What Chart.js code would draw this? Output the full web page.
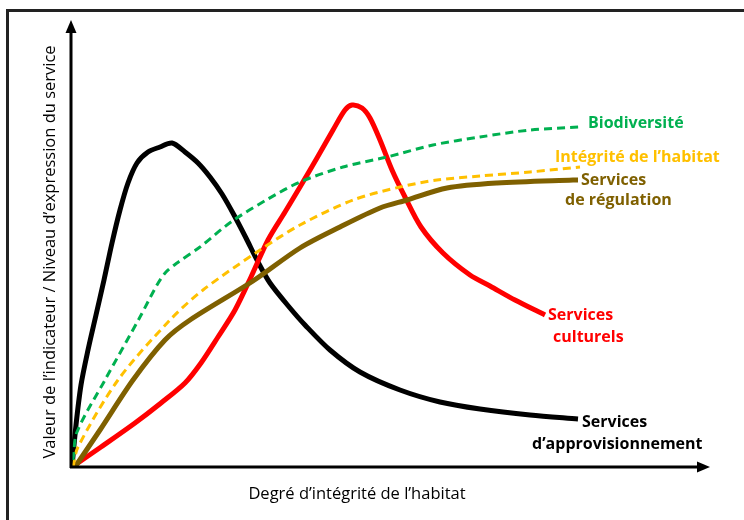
<!DOCTYPE html>
<html>
<head>
<meta charset="utf-8">
<script src="https://cdn.jsdelivr.net/npm/chart.js@4.4.0/dist/chart.umd.min.js"></script>
<style>
  html, body { margin: 0; padding: 0; background: #fff; }
  #wrap { width: 744px; height: 520px; }
</style>
</head>
<body>
<div id="wrap"><canvas id="chart"></canvas></div>
<script>
// conceptual curves, arbitrary units (x: habitat integrity, y: indicator value)
const provX = [1, 5, 10, 17, 25, 33, 41, 49, 57, 66, 77, 89, 101, 114, 127, 139, 151, 163, 175, 187, 199, 219, 234, 259, 289, 329, 369, 409, 459, 507];
const provY = [0, 42, 82, 117, 152, 187, 224, 257, 284, 304, 315, 320, 324, 315, 304, 290, 273, 252, 229, 205, 184, 159, 142, 117, 95, 77, 65, 58, 52, 48];

const cultX = [1, 30, 64, 90, 114, 130, 147, 164, 180, 197, 214, 229, 246, 262, 274, 281, 291, 299, 309, 321, 334, 350, 372, 399, 419, 444, 474];
const cultY = [0, 20, 44, 64, 84, 104, 130, 157, 190, 227, 255, 280, 309, 337, 357, 362, 359, 349, 327, 297, 270, 240, 214, 192, 181, 167, 152];

const bioX = [2, 6, 34, 69, 86, 95, 106, 129, 160, 197, 229, 272, 316, 362, 409, 459, 509];
const bioY = [7, 35, 87, 150, 182, 195, 204, 220, 245, 268, 285, 300, 310, 322, 330, 337, 340];

const habX = [2, 7, 47, 99, 132, 189, 229, 282, 329, 366, 409, 459, 509];
const habY = [0, 20, 87, 147, 177, 217, 242, 267, 280, 287, 291, 295, 300];

const regX = [4, 29, 62, 94, 119, 182, 229, 269, 309, 336, 376, 426, 502, 507];
const regY = [0, 37, 87, 127, 147, 186, 219, 240, 259, 267, 279, 284, 287, 287];

const xTitle = 'Degré d’intégrité de l’habitat';
const yTitle = 'Valeur de l’indicateur / Niveau d’expression du service';

function pts(xs, ys) {
    return xs.map((x, i) => ({ x: x, y: ys[i] }));
}

// label lines per dataset: [text, dx, dy] relative to the last point
const labels = [
    { color: '#00B050', lines: [['Biodiversité', 8, -4]] },
    { color: '#FFC000', lines: [['Intégrité de l’habitat', -25, -10]] },
    { color: '#7F6000', lines: [['Services', 3, 0], ['de régulation', -13, 20]] },
    { color: '#FF0000', lines: [['Services', 3, 0], ['culturels', 8, 22]] },
    { color: '#000000', lines: [['Services', 4, 3], ['d’approvisionnement', -46, 25]] }
];

const decor = {
    id: 'decor',
    afterDraw(chart) {
        const ctx = chart.ctx;
        const xs = chart.scales.x, ys = chart.scales.y;
        const x0 = xs.getPixelForValue(0), y0 = ys.getPixelForValue(0);
        const x1 = xs.getPixelForValue(xs.max), y1 = ys.getPixelForValue(ys.max);
        ctx.save();

        // frame
        ctx.strokeStyle = '#222';
        ctx.lineWidth = 3;
        ctx.beginPath();
        ctx.moveTo(7.5, 530);
        ctx.lineTo(7.5, 10.5);
        ctx.lineTo(760, 10.5);
        ctx.stroke();

        // axes with arrows
        ctx.strokeStyle = '#000';
        ctx.fillStyle = '#000';
        ctx.lineWidth = 3;
        ctx.beginPath();
        ctx.moveTo(x0, y0 + 1);
        ctx.lineTo(x0, y1 + 10);
        ctx.moveTo(x0 - 1, y0);
        ctx.lineTo(x1 - 10, y0);
        ctx.stroke();
        ctx.beginPath();
        ctx.moveTo(x0, y1);
        ctx.lineTo(x0 - 5.5, y1 + 13);
        ctx.lineTo(x0 + 5.5, y1 + 13);
        ctx.closePath();
        ctx.fill();
        ctx.beginPath();
        ctx.moveTo(x1, y0);
        ctx.lineTo(x1 - 13, y0 - 5.5);
        ctx.lineTo(x1 - 13, y0 + 5.5);
        ctx.closePath();
        ctx.fill();

        // axis titles
        ctx.font = '16.5px "Open Sans"';
        ctx.textAlign = 'center';
        ctx.textBaseline = 'middle';
        ctx.fillStyle = '#000';
        ctx.fillText(xTitle, 357, 494);
        ctx.translate(50, 252);
        ctx.rotate(-Math.PI / 2);
        ctx.fillText(yTitle, 0, 0);
        ctx.setTransform(1, 0, 0, 1, 0, 0);

        // curve labels
        ctx.font = 'bold 16px "Open Sans"';
        ctx.textAlign = 'left';
        chart.data.datasets.forEach((ds, i) => {
            const last = ds.data[ds.data.length - 1];
            const px = xs.getPixelForValue(last.x), py = ys.getPixelForValue(last.y);
            ctx.fillStyle = labels[i].color;
            labels[i].lines.forEach(l => ctx.fillText(l[0], px + l[1], py + l[2]));
        });
        ctx.restore();
    }
};

new Chart(document.getElementById('chart'), {
    type: 'line',
    data: {
        datasets: [
            { label: 'Biodiversité', data: pts(bioX, bioY), borderColor: '#00B050', borderWidth: 3, borderDash: [8, 5] },
            { label: 'Intégrité de l’habitat', data: pts(habX, habY), borderColor: '#FFC000', borderWidth: 3, borderDash: [8, 5] },
            { label: 'Services de régulation', data: pts(regX, regY), borderColor: '#7F6000', borderWidth: 5 },
            { label: 'Services culturels', data: pts(cultX, cultY), borderColor: '#FF0000', borderWidth: 5 },
            { label: 'Services d’approvisionnement', data: pts(provX, provY), borderColor: '#000000', borderWidth: 5 }
        ]
    },
    options: {
        responsive: true,
        maintainAspectRatio: false,
        animation: false,
        layout: { padding: { left: 71, right: 34, top: 20, bottom: 53 } },
        elements: {
            point: { radius: 0 },
            line: { tension: 0.3, fill: false, borderCapStyle: 'butt', borderJoinStyle: 'round' }
        },
        plugins: { legend: { display: false }, tooltip: { enabled: false } },
        scales: {
            x: { type: 'linear', min: 0, max: 639, display: false },
            y: { min: 0, max: 447, display: false }
        }
    },
    plugins: [decor]
});
</script>
</body>
</html>
